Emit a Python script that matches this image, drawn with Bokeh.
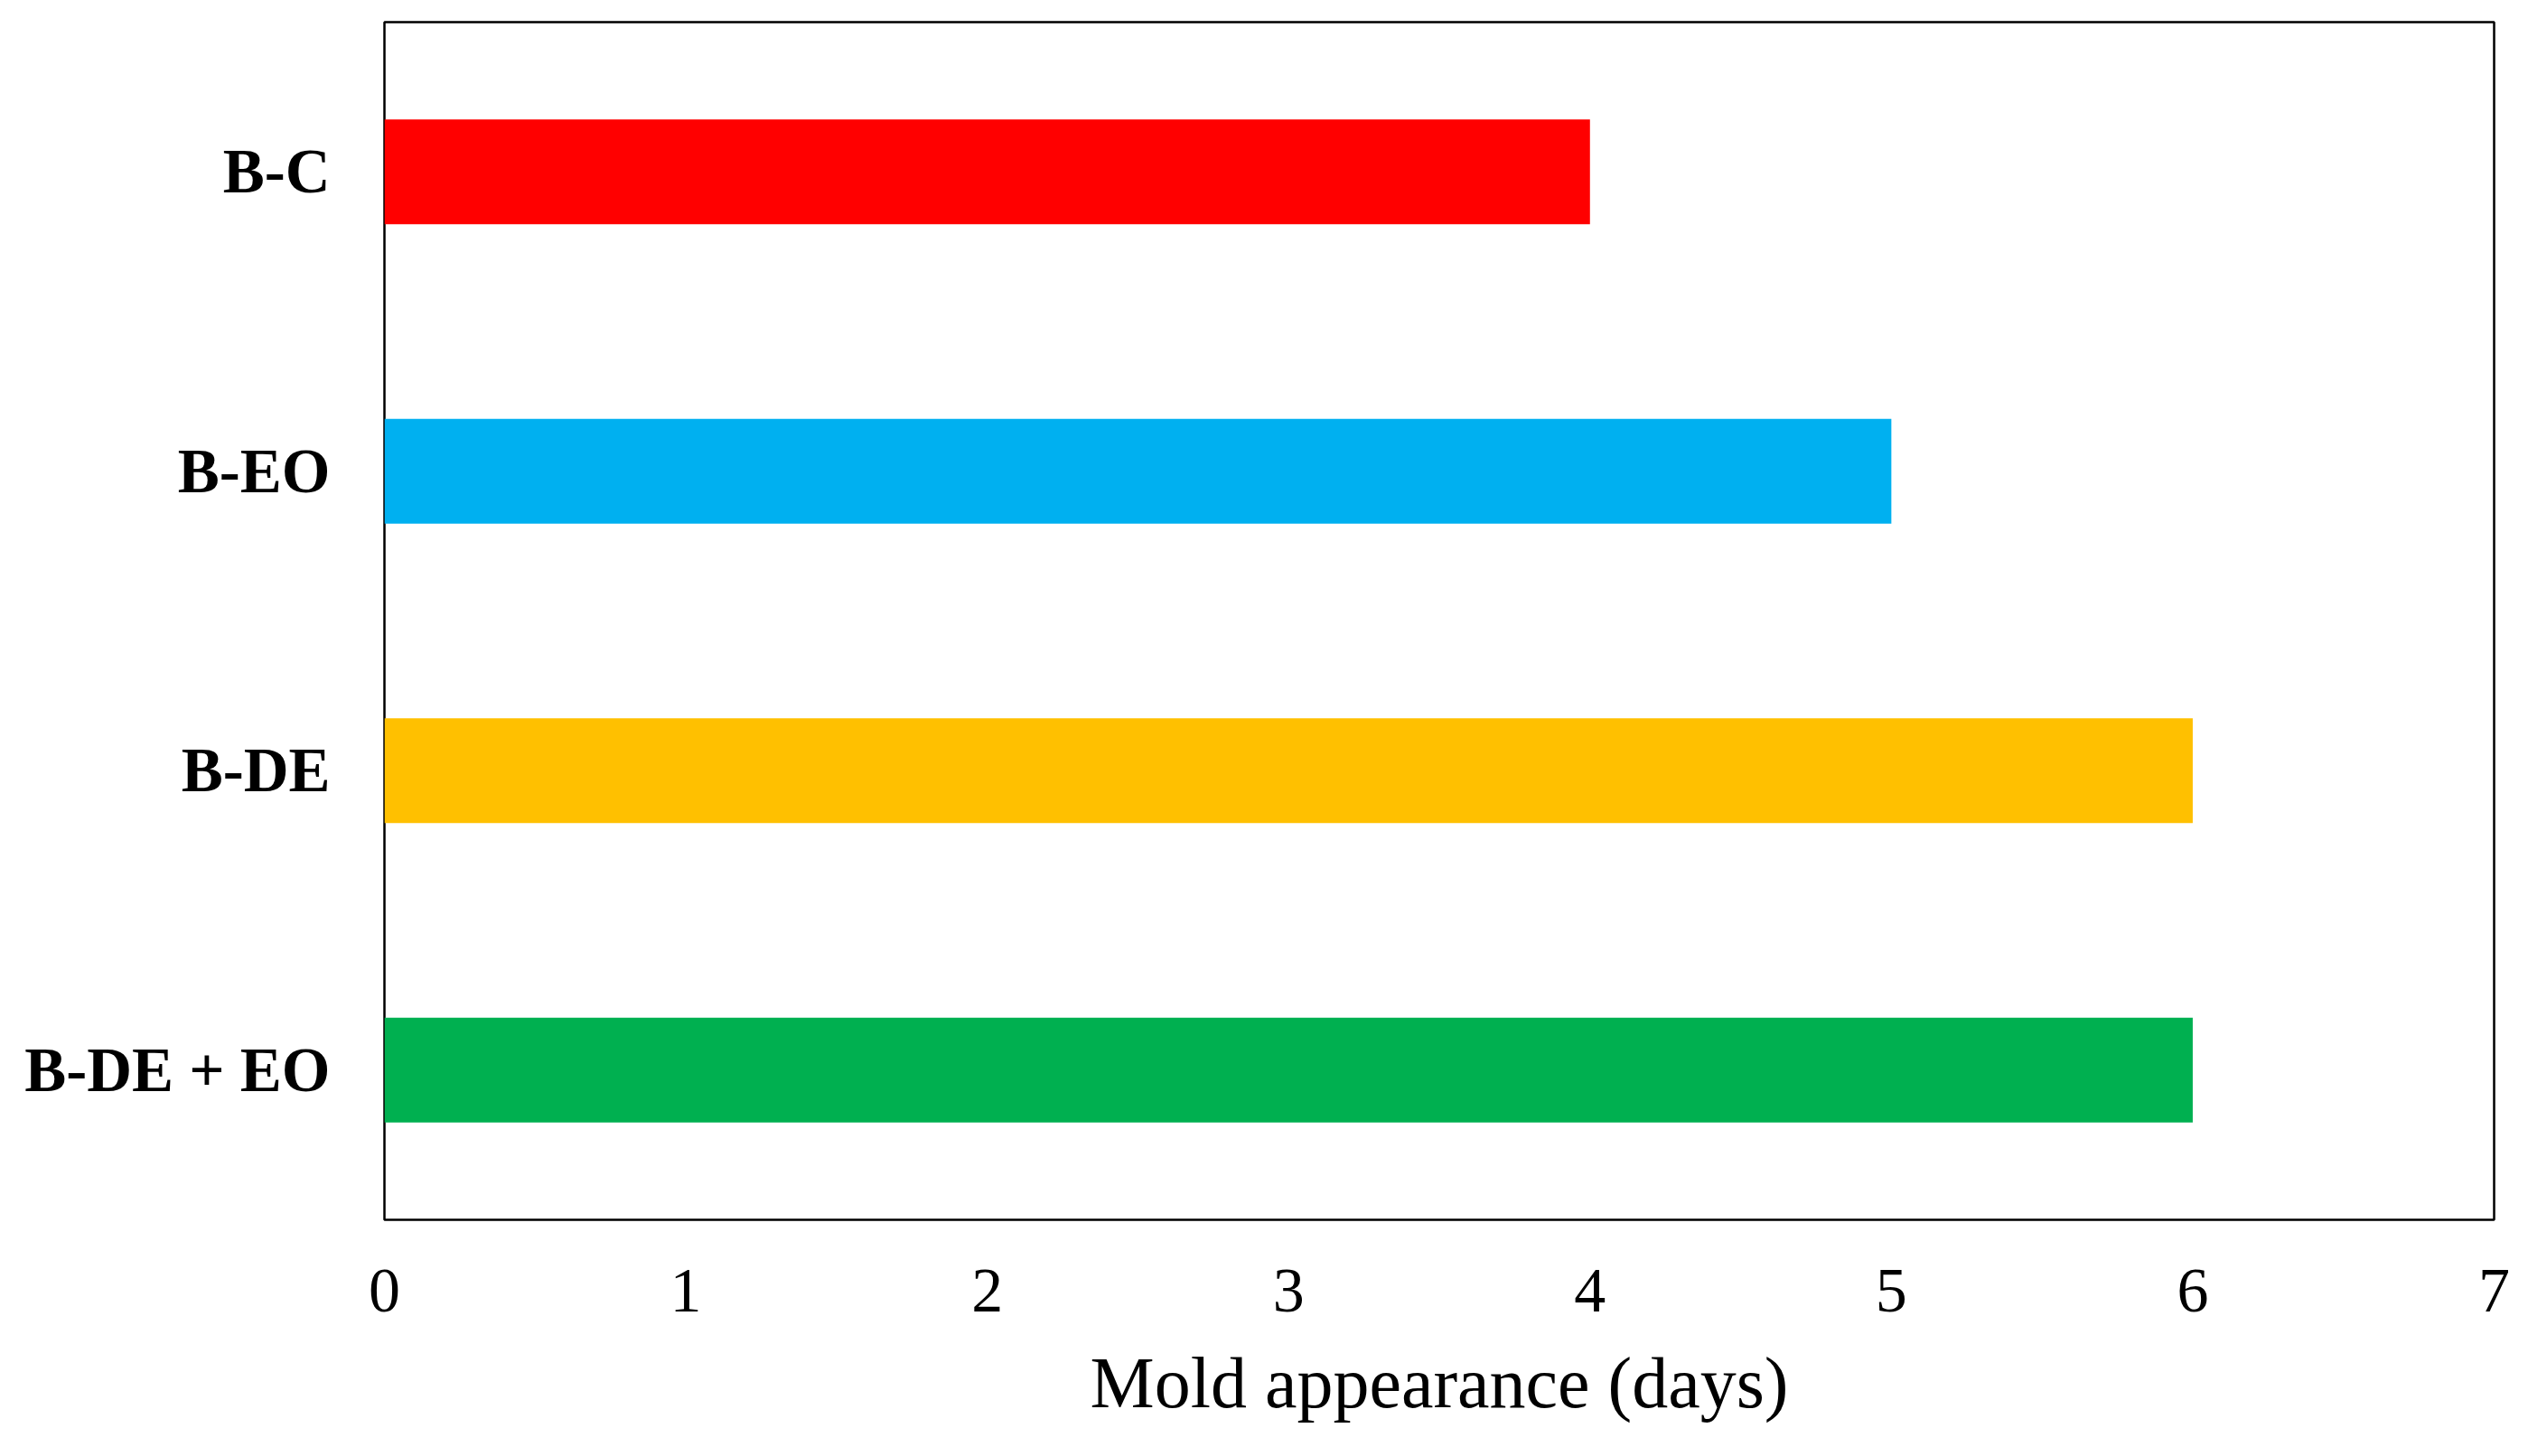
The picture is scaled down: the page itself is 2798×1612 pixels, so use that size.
from bokeh.plotting import figure
from bokeh.models import ColumnDataSource, FactorRange, Range1d, FixedTicker
from bokeh.embed import file_html
from bokeh.resources import INLINE

categories = ["B-C", "B-EO", "B-DE", "B-DE + EO"]
days = [4, 5, 6, 6]
colors = ["#FF0000", "#00B0F0", "#FFC000", "#00B050"]
x_ticks = [0, 1, 2, 3, 4, 5, 6, 7]
x_title = "Mold appearance (days)"

src = ColumnDataSource(dict(cat=categories, days=days, color=colors))

p = figure(width=2782, height=1596, output_backend="svg", toolbar_location=None,
           y_range=FactorRange(factors=list(reversed(categories))),
           x_range=Range1d(0, 7),
           min_border_left=425, min_border_right=22, min_border_top=24, min_border_bottom=246)

p.hbar(y="cat", right="days", left=0, height=0.35, color="color", line_color=None, source=src)

p.xgrid.visible = False
p.ygrid.visible = False
p.outline_line_color = "black"
p.outline_line_width = 2.5
p.background_fill_color = "white"
p.border_fill_color = "white"

xa = p.xaxis[0]
xa.ticker = FixedTicker(ticks=x_ticks)
xa.axis_line_color = None
xa.major_tick_line_color = None
xa.minor_tick_line_color = None
xa.major_tick_out = 0
xa.major_tick_in = 0
xa.major_label_text_font = "Liberation Serif"
xa.major_label_text_font_size = "70px"
xa.major_label_text_color = "black"
xa.major_label_standoff = 55
xa.axis_label = x_title
xa.axis_label_text_font = "Liberation Serif"
xa.axis_label_text_font_style = "normal"
xa.axis_label_text_font_size = "80px"
xa.axis_label_text_color = "black"
xa.axis_label_standoff = 32

ya = p.yaxis[0]
ya.axis_line_color = None
ya.major_tick_line_color = None
ya.minor_tick_line_color = None
ya.major_tick_out = 0
ya.major_tick_in = 0
ya.major_label_text_font = "Liberation Serif"
ya.major_label_text_font_style = "bold"
ya.major_label_text_font_size = "69px"
ya.major_label_text_color = "black"
ya.major_label_standoff = 60

open("out.html", "w").write(file_html(p, INLINE))
